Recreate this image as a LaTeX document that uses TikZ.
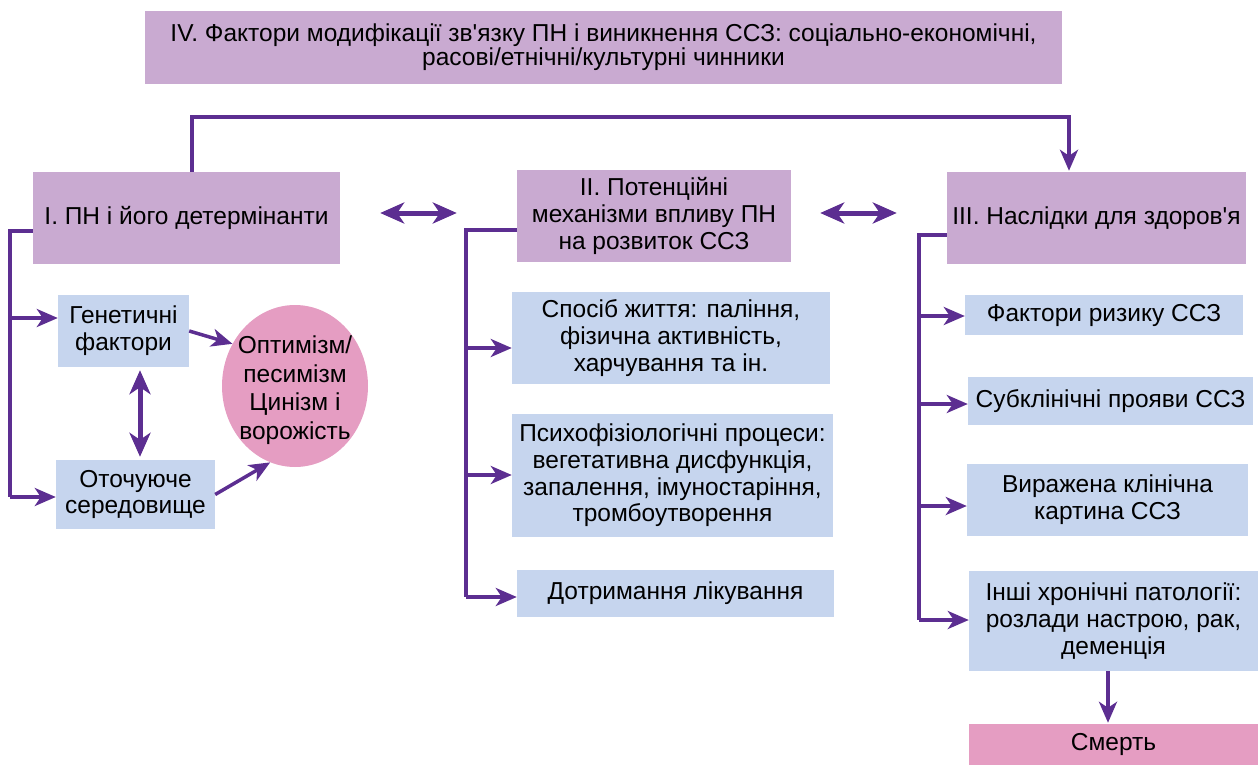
\documentclass[tikz,border=0pt]{standalone}
\usepackage{fontspec}
\setmainfont{Liberation Sans}
\usetikzlibrary{arrows.meta,shapes.geometric,calc}
\definecolor{boxpurple}{HTML}{C9AAD1}
\definecolor{boxblue}{HTML}{C6D5EE}
\definecolor{boxpink}{HTML}{E59DC2}
\definecolor{linevio}{HTML}{5C2E91}
\tikzset{
  box/.style={inner sep=0pt, align=center, font=\fontsize{24.5}{26.7}\selectfont, text=black},
  pbox/.style={box, fill=boxpurple},
  bbox/.style={box, fill=boxblue},
  kbox/.style={box, fill=boxpink},
  conn/.style={draw=linevio, line width=3.5pt},
  arr/.style={conn, -{Stealth[length=21pt,width=18pt,inset=6pt]}},
  darr/.style={draw=linevio, line width=5pt, {Stealth[length=24pt,width=21pt,inset=7pt]}-{Stealth[length=24pt,width=21pt,inset=7pt]}},
}
\begin{document}
\begin{tikzpicture}[x=1pt,y=-1pt]
\path[use as bounding box] (0,0) rectangle (1259,765);
% title
\node[pbox, minimum width=917pt, minimum height=73pt, font=\fontsize{24.5}{24}\selectfont] (T) at (603.5,47.5)
 {IV. Фактори модифікації зв\textquotesingle язку ПН і виникнення ССЗ: соціально-економічні,\\ расові/етнічні/культурні чинники};
% main boxes
\node[pbox, minimum width=307pt, minimum height=92pt] (I) at (186.5,218) {I. ПН і його детермінанти};
\node[pbox, minimum width=274pt, minimum height=92pt] (II) at (654,216) {II. Потенційні\\механізми впливу ПН\\на розвиток ССЗ};
\node[pbox, minimum width=299pt, minimum height=92pt] (III) at (1096.5,218) {III. Наслідки для здоров\textquotesingle я};
% column I
\node[bbox, minimum width=131pt, minimum height=72pt] (Gen) at (123.5,331) {Генетичні\\фактори};
\node[bbox, minimum width=159pt, minimum height=69pt] (Ot) at (135.5,494.5) {Оточуюче\\середовище};
\node[ellipse, fill=boxpink, inner sep=0pt, minimum width=146pt, minimum height=162pt] (Ell) at (295,386) {};
\node[box, font=\fontsize{24.5}{28.5}\selectfont] (EllT) at ($(Ell.center)+(0,4)$) {Оптимізм/\\песимізм\\Цинізм і\\ворожість};
% column II
\node[bbox, minimum width=318pt, minimum height=92pt] (S1) at (671,338) {Спосіб життя: паління,\\фізична активність,\\харчування та ін.};
\node[bbox, minimum width=321pt, minimum height=123pt] (S2) at (672.5,475.5) {Психофізіологічні процеси:\\вегетативна дисфункція,\\запалення, імуностаріння,\\тромбоутворення};
\node[bbox, minimum width=317pt, minimum height=47pt] (S3) at (675.5,593.5) {Дотримання лікування};
% column III
\node[bbox, minimum width=278pt, minimum height=40pt] (R1) at (1104,315) {Фактори ризику ССЗ};
\node[bbox, minimum width=285pt, minimum height=48pt] (R2) at (1110.5,401) {Субклінічні прояви ССЗ};
\node[bbox, minimum width=281pt, minimum height=72pt] (R3) at (1107.5,500) {Виражена клінічна\\картина ССЗ};
\node[bbox, minimum width=289pt, minimum height=100pt] (R4) at (1113.5,621) {Інші хронічні патології:\\розлади настрою, рак,\\деменція};
\node[kbox, minimum width=289pt, minimum height=41pt] (D) at (1113.5,744.5) {Смерть};
% top connector
\draw[arr] ($(I.north)+(5.5,0)$) -- ++(0,-55) -| ($(III.north)+(-27.5,-1)$);
% horizontal double arrows
\draw[darr] ($(I.east)+(40,-5)$) -- ($(II.west)+(-60,-3)$);
\draw[darr] ($(II.east)+(29,-3)$) -- ($(III.west)+(-50,-5)$);
% bracket I
\coordinate (bI0) at (10,231);
\coordinate (bI1) at (10,318);
\coordinate (bI2) at (10,497);
\draw[conn] ($(I.west)+(0,13)$) -- (bI0) -- (bI2);
\draw[arr] (bI1) -- (bI1 -| Gen.west);
\draw[arr] (bI2) -- (bI2 -| Ot.west);
\draw[arr] (Gen.east) -- (Ell.146);
\draw[arr] (Ot.east) -- (Ell.252);
\draw[darr] ($(Gen.south)+(16.5,3)$) -- ($(Ot.north)+(4.5,-3)$);
% bracket II
\coordinate (bII0) at (466,230);
\coordinate (bII1) at (466,348);
\coordinate (bII2) at (466,475);
\coordinate (bII3) at (466,597);
\draw[conn] ($(II.west)+(0,14)$) -- (bII0) -- (bII3);
\draw[arr] (bII1) -- (bII1 -| S1.west);
\draw[arr] (bII2) -- (bII2 -| S2.west);
\draw[arr] (bII3) -- (bII3 -| S3.west);
% bracket III
\coordinate (bIII0) at (919,235);
\coordinate (bIII1) at (919,316);
\coordinate (bIII2) at (919,404);
\coordinate (bIII3) at (919,506);
\coordinate (bIII4) at (919,620);
\draw[conn] ($(III.west)+(0,17)$) -- (bIII0) -- (bIII4);
\draw[arr] (bIII1) -- (bIII1 -| R1.west);
\draw[arr] (bIII2) -- (bIII2 -| R2.west);
\draw[arr] (bIII3) -- (bIII3 -| R3.west);
\draw[arr] (bIII4) -- (bIII4 -| R4.west);
\draw[arr] ($(R4.south)+(-5.5,0)$) -- ($(D.north)+(-5.5,-1)$);
\end{tikzpicture}
\end{document}
